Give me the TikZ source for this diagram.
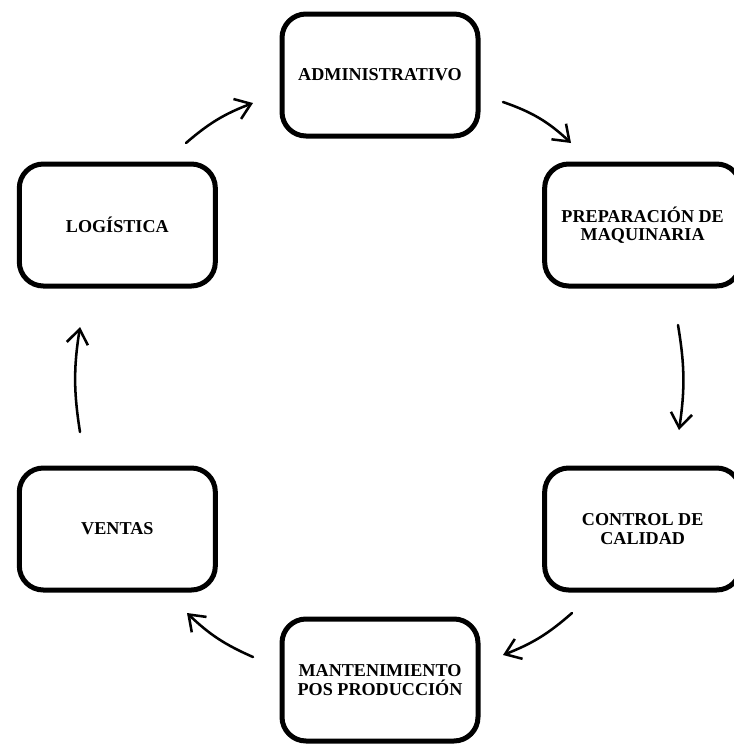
\documentclass[tikz,border=0pt]{standalone}
\usepackage{fontspec}
\setmainfont{Liberation Serif}
\usetikzlibrary{positioning,arrows.meta}

\tikzset{
  etapa/.style={draw, line width=3.75pt, rounded corners=18pt, minimum width=147pt, minimum height=91.5pt,
    outer sep=0pt, align=center, font=\fontsize{13.6}{13.8}\selectfont\bfseries},
  flecha/.style={-{Straight Barb[length=11pt,width=16pt,line width=1.9pt]}, line width=1.9pt, line cap=round}
}

\begin{document}
\begin{tikzpicture}[x=0.75pt, y=-0.75pt]
\useasboundingbox (0,0) rectangle (733,747);

% Main node
\node[etapa] (admin) at (380,75) {ADMINISTRATIVO};

% Surrounding nodes
\node[etapa] (prep) [below right=21pt and 50pt of admin] {PREPARACIÓN DE\\MAQUINARIA};
\node[etapa] (control) [below=136.5pt of prep] {CONTROL DE\\CALIDAD};
\node[etapa] (mant) [below left=21.75pt and 50pt of control] {MANTENIMIENTO\\POS PRODUCCIÓN};
\node[etapa] (log) [below left=21pt and 50pt of admin] {LOGÍSTICA};
\node[etapa] (ventas) [below=136.5pt of log] {VENTAS};

% Arrow ends
\coordinate (a1) at (503,102); \coordinate (b1) at (571,143);
\coordinate (a2) at (678,325); \coordinate (b2) at (679,430);
\coordinate (a3) at (572,613); \coordinate (b3) at (503,655);
\coordinate (a4) at (253,657); \coordinate (b4) at (187,613);
\coordinate (a5) at (80,432);  \coordinate (b5) at (80,327);
\coordinate (a6) at (186,143); \coordinate (b6) at (253,103);

% Connecting lines
\draw[flecha] (a1) to[bend left=12] (b1);
\draw[flecha] (a2) to[bend left=9] (b2);
\draw[flecha] (a3) to[bend left=10] (b3);
\draw[flecha] (a4) to[bend left=10] (b4);
\draw[flecha] (a5) to[bend left=9] (b5);
\draw[flecha] (a6) to[bend left=10] (b6);

\end{tikzpicture}
\end{document}
